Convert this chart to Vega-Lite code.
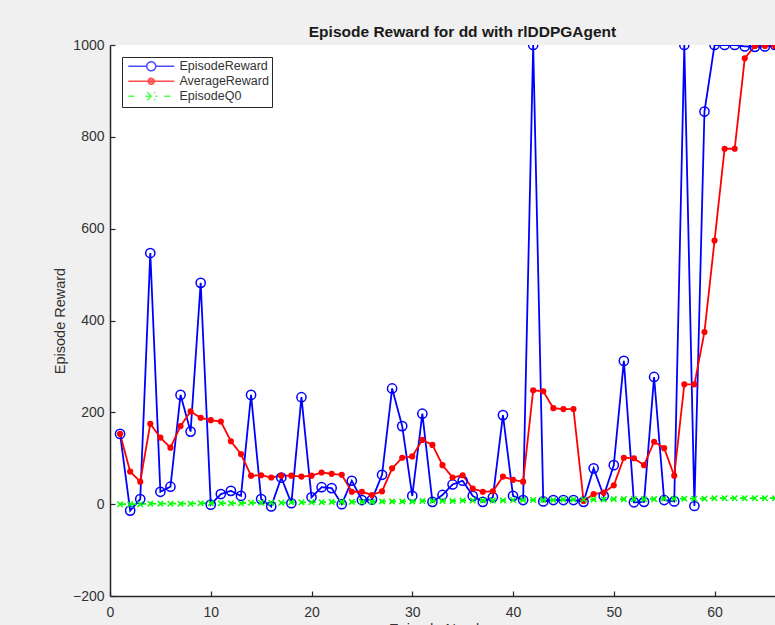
{
  "$schema": "https://vega.github.io/schema/vega-lite/v6.json",
  "width": 665,
  "height": 551,
  "autosize": {"type": "none"},
  "padding": {"left": 110, "top": 45, "right": 0, "bottom": 29},
  "background": "#f0f0f0",
  "title": {
    "text": "Episode Reward for dd with rlDDPGAgent",
    "font": "Liberation Sans",
    "fontSize": 15.5,
    "fontWeight": "bold",
    "color": "#1a1a1a",
    "anchor": "middle",
    "dx": 20,
    "offset": -2
  },
  "config": {
    "view": {"fill": "white", "stroke": null},
    "font": "Liberation Sans",
    "axis": {
      "domainColor": "#262626",
      "domainWidth": 1.5,
      "tickColor": "#262626",
      "tickWidth": 1.2,
      "tickSize": -5,
      "labelFont": "Liberation Sans",
      "labelFontSize": 14,
      "labelColor": "#333333",
      "titleFont": "Liberation Sans",
      "titleFontSize": 14.5,
      "titleFontWeight": "normal",
      "titleColor": "#333333",
      "grid": false
    }
  },
  "data": {
    "values": [
      {"s":"EpisodeReward","ep":1,"v":153},{"s":"EpisodeReward","ep":2,"v":-14},{"s":"EpisodeReward","ep":3,"v":11},{"s":"EpisodeReward","ep":4,"v":547},{"s":"EpisodeReward","ep":5,"v":27},{"s":"EpisodeReward","ep":6,"v":38},{"s":"EpisodeReward","ep":7,"v":238},{"s":"EpisodeReward","ep":8,"v":158},{"s":"EpisodeReward","ep":9,"v":482},{"s":"EpisodeReward","ep":10,"v":-1},
      {"s":"EpisodeReward","ep":11,"v":22},{"s":"EpisodeReward","ep":12,"v":29},{"s":"EpisodeReward","ep":13,"v":18},{"s":"EpisodeReward","ep":14,"v":238},{"s":"EpisodeReward","ep":15,"v":11},{"s":"EpisodeReward","ep":16,"v":-5},{"s":"EpisodeReward","ep":17,"v":58},{"s":"EpisodeReward","ep":18,"v":2},{"s":"EpisodeReward","ep":19,"v":233},{"s":"EpisodeReward","ep":20,"v":15},
      {"s":"EpisodeReward","ep":21,"v":37},{"s":"EpisodeReward","ep":22,"v":35},{"s":"EpisodeReward","ep":23,"v":0},{"s":"EpisodeReward","ep":24,"v":51},{"s":"EpisodeReward","ep":25,"v":9},{"s":"EpisodeReward","ep":26,"v":10},{"s":"EpisodeReward","ep":27,"v":64},{"s":"EpisodeReward","ep":28,"v":252},{"s":"EpisodeReward","ep":29,"v":170},{"s":"EpisodeReward","ep":30,"v":18},
      {"s":"EpisodeReward","ep":31,"v":197},{"s":"EpisodeReward","ep":32,"v":5},{"s":"EpisodeReward","ep":33,"v":20},{"s":"EpisodeReward","ep":34,"v":43},{"s":"EpisodeReward","ep":35,"v":51},{"s":"EpisodeReward","ep":36,"v":18},{"s":"EpisodeReward","ep":37,"v":5},{"s":"EpisodeReward","ep":38,"v":15},{"s":"EpisodeReward","ep":39,"v":194},{"s":"EpisodeReward","ep":40,"v":18},
      {"s":"EpisodeReward","ep":41,"v":9},{"s":"EpisodeReward","ep":42,"v":1000},{"s":"EpisodeReward","ep":43,"v":6},{"s":"EpisodeReward","ep":44,"v":9},{"s":"EpisodeReward","ep":45,"v":9},{"s":"EpisodeReward","ep":46,"v":9},{"s":"EpisodeReward","ep":47,"v":5},{"s":"EpisodeReward","ep":48,"v":78},{"s":"EpisodeReward","ep":49,"v":18},{"s":"EpisodeReward","ep":50,"v":85},
      {"s":"EpisodeReward","ep":51,"v":312},{"s":"EpisodeReward","ep":52,"v":4},{"s":"EpisodeReward","ep":53,"v":5},{"s":"EpisodeReward","ep":54,"v":277},{"s":"EpisodeReward","ep":55,"v":9},{"s":"EpisodeReward","ep":56,"v":6},{"s":"EpisodeReward","ep":57,"v":1000},{"s":"EpisodeReward","ep":58,"v":-4},{"s":"EpisodeReward","ep":59,"v":855},{"s":"EpisodeReward","ep":60,"v":1000},
      {"s":"EpisodeReward","ep":61,"v":1000},{"s":"EpisodeReward","ep":62,"v":1000},{"s":"EpisodeReward","ep":63,"v":997},{"s":"EpisodeReward","ep":64,"v":996},{"s":"EpisodeReward","ep":65,"v":997},{"s":"EpisodeReward","ep":66,"v":1000},
      {"s":"AverageReward","ep":1,"v":153},{"s":"AverageReward","ep":2,"v":71},{"s":"AverageReward","ep":3,"v":49},{"s":"AverageReward","ep":4,"v":175},{"s":"AverageReward","ep":5,"v":145},{"s":"AverageReward","ep":6,"v":123},{"s":"AverageReward","ep":7,"v":170},{"s":"AverageReward","ep":8,"v":202},{"s":"AverageReward","ep":9,"v":188},{"s":"AverageReward","ep":10,"v":183},
      {"s":"AverageReward","ep":11,"v":180},{"s":"AverageReward","ep":12,"v":137},{"s":"AverageReward","ep":13,"v":109},{"s":"AverageReward","ep":14,"v":62},{"s":"AverageReward","ep":15,"v":63},{"s":"AverageReward","ep":16,"v":58},{"s":"AverageReward","ep":17,"v":62},{"s":"AverageReward","ep":18,"v":62},{"s":"AverageReward","ep":19,"v":60},{"s":"AverageReward","ep":20,"v":62},
      {"s":"AverageReward","ep":21,"v":69},{"s":"AverageReward","ep":22,"v":66},{"s":"AverageReward","ep":23,"v":64},{"s":"AverageReward","ep":24,"v":27},{"s":"AverageReward","ep":25,"v":27},{"s":"AverageReward","ep":26,"v":20},{"s":"AverageReward","ep":27,"v":28},{"s":"AverageReward","ep":28,"v":78},{"s":"AverageReward","ep":29,"v":101},{"s":"AverageReward","ep":30,"v":104},
      {"s":"AverageReward","ep":31,"v":140},{"s":"AverageReward","ep":32,"v":129},{"s":"AverageReward","ep":33,"v":85},{"s":"AverageReward","ep":34,"v":58},{"s":"AverageReward","ep":35,"v":63},{"s":"AverageReward","ep":36,"v":34},{"s":"AverageReward","ep":37,"v":27},{"s":"AverageReward","ep":38,"v":28},{"s":"AverageReward","ep":39,"v":60},{"s":"AverageReward","ep":40,"v":53},
      {"s":"AverageReward","ep":41,"v":49},{"s":"AverageReward","ep":42,"v":248},{"s":"AverageReward","ep":43,"v":246},{"s":"AverageReward","ep":44,"v":209},{"s":"AverageReward","ep":45,"v":207},{"s":"AverageReward","ep":46,"v":207},{"s":"AverageReward","ep":47,"v":7},{"s":"AverageReward","ep":48,"v":22},{"s":"AverageReward","ep":49,"v":25},{"s":"AverageReward","ep":50,"v":41},
      {"s":"AverageReward","ep":51,"v":101},{"s":"AverageReward","ep":52,"v":100},{"s":"AverageReward","ep":53,"v":85},{"s":"AverageReward","ep":54,"v":136},{"s":"AverageReward","ep":55,"v":122},{"s":"AverageReward","ep":56,"v":62},{"s":"AverageReward","ep":57,"v":261},{"s":"AverageReward","ep":58,"v":261},{"s":"AverageReward","ep":59,"v":375},{"s":"AverageReward","ep":60,"v":574},
      {"s":"AverageReward","ep":61,"v":774},{"s":"AverageReward","ep":62,"v":774},{"s":"AverageReward","ep":63,"v":971},{"s":"AverageReward","ep":64,"v":998},{"s":"AverageReward","ep":65,"v":998},{"s":"AverageReward","ep":66,"v":998},
      {"s":"EpisodeQ0","ep":1,"v":0},{"s":"EpisodeQ0","ep":2,"v":0},{"s":"EpisodeQ0","ep":3,"v":0},{"s":"EpisodeQ0","ep":4,"v":1},{"s":"EpisodeQ0","ep":5,"v":1},{"s":"EpisodeQ0","ep":6,"v":1},{"s":"EpisodeQ0","ep":7,"v":1},{"s":"EpisodeQ0","ep":8,"v":1},{"s":"EpisodeQ0","ep":9,"v":2},{"s":"EpisodeQ0","ep":10,"v":2},
      {"s":"EpisodeQ0","ep":11,"v":2},{"s":"EpisodeQ0","ep":12,"v":2},{"s":"EpisodeQ0","ep":13,"v":2},{"s":"EpisodeQ0","ep":14,"v":3},{"s":"EpisodeQ0","ep":15,"v":3},{"s":"EpisodeQ0","ep":16,"v":3},{"s":"EpisodeQ0","ep":17,"v":3},{"s":"EpisodeQ0","ep":18,"v":4},{"s":"EpisodeQ0","ep":19,"v":4},{"s":"EpisodeQ0","ep":20,"v":4},
      {"s":"EpisodeQ0","ep":21,"v":4},{"s":"EpisodeQ0","ep":22,"v":5},{"s":"EpisodeQ0","ep":23,"v":5},{"s":"EpisodeQ0","ep":24,"v":5},{"s":"EpisodeQ0","ep":25,"v":5},{"s":"EpisodeQ0","ep":26,"v":5},{"s":"EpisodeQ0","ep":27,"v":6},{"s":"EpisodeQ0","ep":28,"v":6},{"s":"EpisodeQ0","ep":29,"v":6},{"s":"EpisodeQ0","ep":30,"v":6},
      {"s":"EpisodeQ0","ep":31,"v":7},{"s":"EpisodeQ0","ep":32,"v":7},{"s":"EpisodeQ0","ep":33,"v":7},{"s":"EpisodeQ0","ep":34,"v":7},{"s":"EpisodeQ0","ep":35,"v":8},{"s":"EpisodeQ0","ep":36,"v":8},{"s":"EpisodeQ0","ep":37,"v":8},{"s":"EpisodeQ0","ep":38,"v":8},{"s":"EpisodeQ0","ep":39,"v":8},{"s":"EpisodeQ0","ep":40,"v":9},
      {"s":"EpisodeQ0","ep":41,"v":9},{"s":"EpisodeQ0","ep":42,"v":9},{"s":"EpisodeQ0","ep":43,"v":9},{"s":"EpisodeQ0","ep":44,"v":9},{"s":"EpisodeQ0","ep":45,"v":10},{"s":"EpisodeQ0","ep":46,"v":10},{"s":"EpisodeQ0","ep":47,"v":10},{"s":"EpisodeQ0","ep":48,"v":10},{"s":"EpisodeQ0","ep":49,"v":10},{"s":"EpisodeQ0","ep":50,"v":11},
      {"s":"EpisodeQ0","ep":51,"v":11},{"s":"EpisodeQ0","ep":52,"v":11},{"s":"EpisodeQ0","ep":53,"v":11},{"s":"EpisodeQ0","ep":54,"v":11},{"s":"EpisodeQ0","ep":55,"v":12},{"s":"EpisodeQ0","ep":56,"v":12},{"s":"EpisodeQ0","ep":57,"v":12},{"s":"EpisodeQ0","ep":58,"v":12},{"s":"EpisodeQ0","ep":59,"v":12},{"s":"EpisodeQ0","ep":60,"v":13},
      {"s":"EpisodeQ0","ep":61,"v":13},{"s":"EpisodeQ0","ep":62,"v":13},{"s":"EpisodeQ0","ep":63,"v":13},{"s":"EpisodeQ0","ep":64,"v":13},{"s":"EpisodeQ0","ep":65,"v":13},{"s":"EpisodeQ0","ep":66,"v":13}
    ]
  },
  "encoding": {
    "x": {
      "field": "ep",
      "type": "quantitative",
      "scale": {"domain": [0, 66], "nice": false, "zero": false},
      "axis": {
        "values": [0, 10, 20, 30, 40, 50, 60],
        "format": "d",
        "title": "Episode Number",
        "labelPadding": 14,
        "titlePadding": 3,
        "labelFlush": false
      }
    },
    "y": {
      "field": "v",
      "type": "quantitative",
      "scale": {"domain": [-200, 1000], "nice": false},
      "axis": {
        "values": [-200, 0, 200, 400, 600, 800, 1000],
        "format": "d",
        "title": "Episode Reward",
        "labelPadding": 11,
        "titlePadding": 5
      }
    }
  },
  "layer": [
    {
      "mark": {"type": "line", "strokeWidth": 1.8, "clip": true},
      "encoding": {
        "stroke": {
          "field": "s",
          "type": "nominal",
          "scale": {
            "domain": ["EpisodeReward", "AverageReward", "EpisodeQ0"],
            "range": ["#0000ff", "#ff0000", "#00ff00"]
          },
          "legend": {
            "title": null,
            "orient": "none",
            "legendX": 12,
            "legendY": 12,
            "padding": 3,
            "rowPadding": 1,
            "strokeColor": "#262626",
            "fillColor": "white",
            "cornerRadius": 0,
            "symbolSize": 100,
            "symbolStrokeWidth": 1.5,
            "symbolOpacity": 1,
            "symbolOffset": 20,
            "labelOffset": 22,
            "labelFont": "Liberation Sans",
            "labelFontSize": 12.5,
            "labelColor": "#333333"
          }
        },
        "strokeDash": {
          "field": "s",
          "type": "nominal",
          "scale": {
            "domain": ["EpisodeReward", "AverageReward", "EpisodeQ0"],
            "range": [[1, 0], [1, 0], [6, 4]]
          },
          "legend": null
        }
      }
    },
    {
      "transform": [{"filter": "false"}],
      "mark": {"type": "point", "filled": false, "size": 100, "strokeWidth": 1.5},
      "encoding": {
        "stroke": {"field": "s", "type": "nominal"},
        "fill": {
          "field": "s",
          "type": "nominal",
          "scale": {
            "domain": ["EpisodeReward", "AverageReward", "EpisodeQ0"],
            "range": ["transparent", "#ff0000", "transparent"]
          }
        },
        "shape": {
          "field": "s",
          "type": "nominal",
          "scale": {
            "domain": ["EpisodeReward", "AverageReward", "EpisodeQ0"],
            "range": [
              "M-4.6,0H-0.9M0.9,0H4.6M-0.9,0A0.9,0.9 0 1,0 0.9,0A0.9,0.9 0 1,0 -0.9,0",
              "M-4.6,0H4.6M-0.6,0A0.6,0.6 0 1,0 0.6,0A0.6,0.6 0 1,0 -0.6,0",
              "M-4.6,0H-2.6M-1.2,0H1.2M2.6,0H4.6M-0.8,-0.8L0.8,0.8M-0.8,0.8L0.8,-0.8"
            ]
          }
        }
      }
    },
    {
      "transform": [{"filter": "datum.s === 'EpisodeReward'"}],
      "mark": {"type": "point", "shape": "circle", "filled": false, "stroke": "#0000ff", "strokeWidth": 1.5, "size": 85, "opacity": 1, "clip": true}
    },
    {
      "transform": [{"filter": "datum.s === 'AverageReward'"}],
      "mark": {"type": "point", "shape": "circle", "filled": true, "fill": "#ff0000", "size": 38, "opacity": 1, "clip": true}
    },
    {
      "transform": [{"filter": "datum.s === 'EpisodeQ0'"}],
      "mark": {"type": "point", "shape": "M-1,-1L1,1M-1,1L1,-1", "filled": false, "stroke": "#00ff00", "strokeWidth": 1.5, "size": 30, "opacity": 1, "clip": true}
    }
  ]
}
